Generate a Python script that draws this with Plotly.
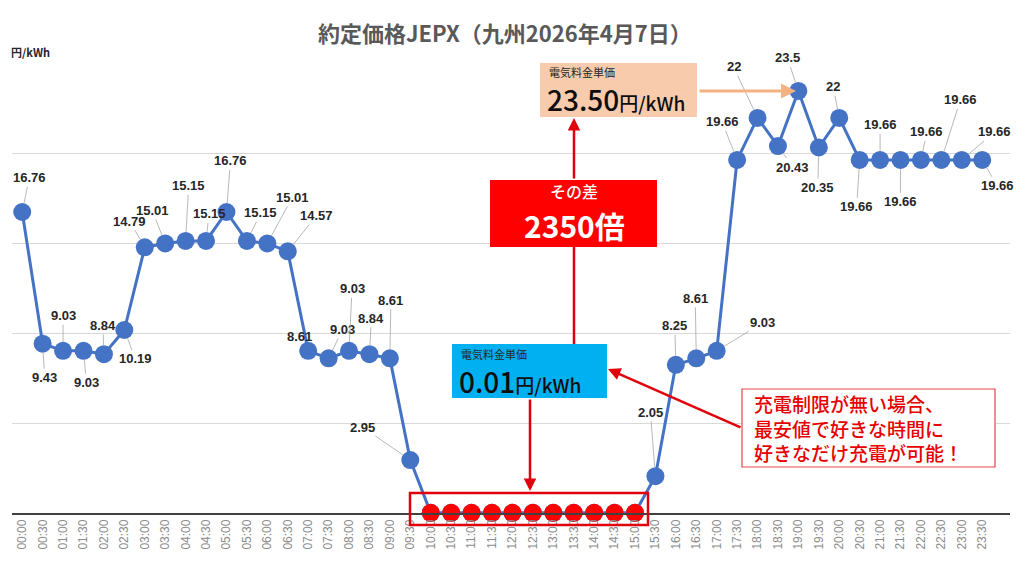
import plotly.graph_objects as go

# --- data ---
TIMES = [f"{h:02d}:{m:02d}" for h in range(24) for m in (0, 30)]

PRICES = [
    16.76, 9.43, 9.03, 9.03, 8.84, 10.19, 14.79, 15.01,
    15.15, 15.15, 16.76, 15.15, 15.01, 14.57, 9.03, 8.61,
    9.03, 8.84, 8.61, 2.95, 0.01, 0.01, 0.01, 0.01,
    0.01, 0.01, 0.01, 0.01, 0.01, 0.01, 0.01, 2.05,
    8.25, 8.61, 9.03, 19.66, 22, 20.43, 23.5, 20.35,
    22, 19.66, 19.66, 19.66, 19.66, 19.66, 19.66, 19.66,
]

# data label text as printed on the chart (None = no label)
LABELS = [
    "16.76", "9.43", "9.03", "9.03", "8.84", "10.19", "14.79", "15.01",
    "15.15", "15.15", "16.76", "15.15", "15.01", "14.57", "8.61", "9.03",
    "9.03", "8.84", "8.61", "2.95", None, None, None, None,
    None, None, None, None, None, None, None, "2.05",
    "8.25", "8.61", "9.03", "19.66", "22", "20.43", "23.5", "20.35",
    "22", "19.66", "19.66", "19.66", "19.66", "19.66", "19.66", "19.66",
]

LOW_FIRST, LOW_LAST = 20, 30   # 10:00 .. 15:00, the 0.01 yen slots
LOW_PRICE = "0.01"
HIGH_PRICE = "23.50"
RATIO = "2350"

TITLE = "約定価格JEPX（九州2026年4月7日）"
UNIT = "円/kWh"

# label offsets (px) from the point, layout only
LABEL_OFFSETS = [
    (7, -34), (2, 34), (0, -35), (3, 32), (-1, -29), (11, 29), (-15, -26), (-13, -33),
    (3, -55), (3, -27), (4, -51), (14, -28), (25, -46), (29, -36), (-9, -14), (14, -29),
    (3, -62), (2, -36), (1, -58), (-48, -33), None, None, None, None,
    None, None, None, None, None, None, None, (-5, -64),
    (-1, -39), (-1, -60), (46, -28), (-15, -38), (-24, -51), (15, 21), (-11, -33), (-1, 40),
    (-6, -31), (-3, 47), (0, -35), (0, 42), (6, -28), (19, -60), (33, -28), (15, 26),
]

W, H = 1024, 576
ML, MR, MT, MB = 12, 14, 64, 63
JP = "Noto Sans CJK JP"
NUM = "Liberation Sans"
BLUE = "#4472C4"
RED = "#FF0000"
DRED = "#E0000B"


def px(x):
    return (x - ML) / (W - ML - MR)


def py(y):
    return (H - MB - y) / (H - MT - MB)


def note(x, y, text, size, color, anchor="center", weight="normal", **kw):
    return dict(x=px(x), y=py(y), xref="paper", yref="paper", text=text,
                showarrow=False, xanchor=anchor, yanchor="middle",
                font=dict(family=JP, size=size, color=color, weight=weight), **kw)


def arrow(x, y, ax, ay, color, width=2.5):
    return dict(x=px(x), y=py(y), xref="paper", yref="paper", text="",
                showarrow=True, arrowhead=2, arrowsize=1, arrowwidth=width,
                arrowcolor=color, ax=ax, ay=ay)


fig = go.Figure()

fig.add_trace(go.Scatter(
    x=TIMES, y=PRICES, mode="lines+markers",
    line=dict(color=BLUE, width=3),
    marker=dict(color=BLUE, size=18),
    cliponaxis=False, hoverinfo="skip",
))

fig.add_trace(go.Scatter(
    x=TIMES[LOW_FIRST:LOW_LAST + 1], y=PRICES[LOW_FIRST:LOW_LAST + 1],
    mode="markers", marker=dict(color=RED, size=18),
    cliponaxis=False, hoverinfo="skip",
))

annotations = []

for t, v, lab, off in zip(TIMES, PRICES, LABELS, LABEL_OFFSETS):
    if lab is None:
        continue
    annotations.append(dict(
        x=t, y=v, xref="x", yref="y", text=lab,
        showarrow=True, arrowhead=0, arrowwidth=0.8, arrowcolor="#A6A6A6",
        ax=off[0], ay=off[1], standoff=9,
        font=dict(family=NUM, size=13, color="#262626", weight="bold"),
    ))

# title & unit
annotations.append(note(505, 32, TITLE, 22, "#595959", weight="bold"))
annotations.append(note(9, 52, UNIT, 11, "#262626", anchor="left", weight="bold"))

shapes = []

# high price box
shapes.append(dict(type="rect", xref="paper", yref="paper",
                   x0=px(540), x1=px(697), y0=py(117), y1=py(63),
                   fillcolor="#F8CBAD", line=dict(width=0), layer="above"))
annotations.append(note(547, 72, "電気料金単価", 11, "#262626", anchor="left"))
annotations.append(note(545, 99,
                        f"<span style='font-size:28px'>{HIGH_PRICE}</span>"
                        f"<span style='font-size:19px'>{UNIT}</span>",
                        28, "#0D0D0D", anchor="left", weight=500))
annotations.append(arrow(796, 91, -98, 0, "#F4B183", 3))

# ratio box
shapes.append(dict(type="rect", xref="paper", yref="paper",
                   x0=px(490), x1=px(657), y0=py(247), y1=py(180),
                   fillcolor=RED, line=dict(width=0), layer="above"))
annotations.append(note(574, 191, "その差", 16, "white", weight=500))
annotations.append(note(574, 225, f"{RATIO}倍", 30, "white", weight="bold"))
annotations.append(arrow(574, 118, 0, 62, DRED))
shapes.append(dict(type="line", xref="paper", yref="paper",
                   x0=px(574), x1=px(574), y0=py(247), y1=py(344),
                   line=dict(color=DRED, width=2.5), layer="above"))

# low price box
shapes.append(dict(type="rect", xref="paper", yref="paper",
                   x0=px(452), x1=px(607), y0=py(398), y1=py(344),
                   fillcolor="#00B0F0", line=dict(width=0), layer="above"))
annotations.append(note(459, 354, "電気料金単価", 11, "#262626", anchor="left"))
annotations.append(note(457, 381,
                        f"<span style='font-size:28px'>{LOW_PRICE}</span>"
                        f"<span style='font-size:19px'>{UNIT}</span>",
                        28, "#0D0D0D", anchor="left", weight=500))
annotations.append(arrow(530, 491, 0, -93, DRED))

# outline round the cheapest slots
shapes.append(dict(type="rect", xref="paper", yref="paper",
                   x0=px(410), x1=px(648), y0=py(525), y1=py(493),
                   line=dict(color=DRED, width=2.5), layer="above"))

# callout
shapes.append(dict(type="rect", xref="paper", yref="paper",
                   x0=px(742), x1=px(995), y0=py(467), y1=py(389),
                   fillcolor="white", line=dict(color="#E04848", width=1.2), layer="above"))
annotations.append(note(752, 428,
                        "充電制限が無い場合、<br>最安値で好きな時間に<br>好きなだけ充電が可能！",
                        19, "#E60000", anchor="left", weight=500, align="left"))
annotations.append(arrow(608, 369, 134, 59, DRED))

fig.update_layout(
    width=W, height=H,
    margin=dict(l=ML, r=MR, t=MT, b=MB),
    paper_bgcolor="white", plot_bgcolor="white",
    showlegend=False,
    annotations=annotations,
    shapes=shapes,
    xaxis=dict(
        type="category", range=[-0.5, 48.36], tickangle=-90,
        tickfont=dict(family=NUM, size=12, color="#8C8C8C"),
        showgrid=False, showline=True, linecolor="#404040", linewidth=1.5,
        ticks="", automargin=False, fixedrange=True,
    ),
    yaxis=dict(
        range=[0, 25], dtick=5, showticklabels=False,
        gridcolor="#D9D9D9", gridwidth=1, zeroline=False,
        automargin=False, fixedrange=True,
    ),
)

fig.write_html("out.html", config={"displayModeBar": False},
               post_script="document.body.style.margin='0';")
